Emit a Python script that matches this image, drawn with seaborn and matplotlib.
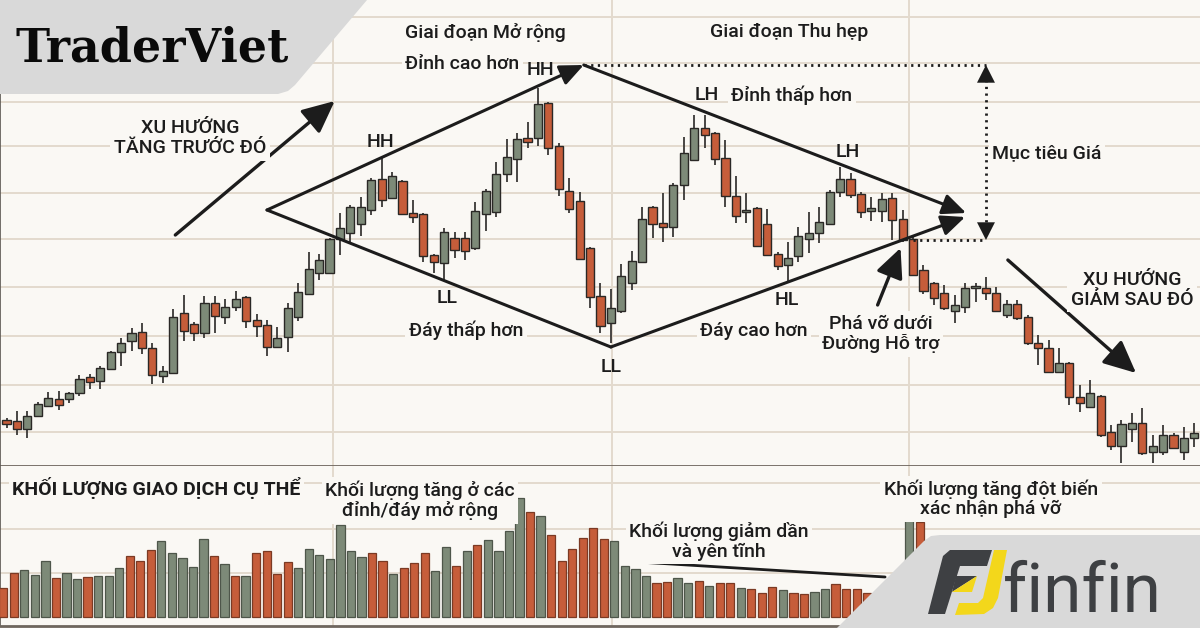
import matplotlib
matplotlib.use("Agg")
import matplotlib.pyplot as plt
import seaborn as sns
import pandas as pd
import numpy as np
from matplotlib.patches import Polygon
import matplotlib.colors as mcolors

# ---------------- data ----------------
opens = [50, 49, 41, 54, 64, 71, 71, 77, 93, 89,
         101, 118, 129, 138, 122, 94, 97, 157, 146, 137,
         167, 153, 163, 173, 150, 145, 123, 133, 153, 176,
         197, 197, 231, 237, 246, 260, 291, 272, 289, 257,
         256, 215, 207, 232, 232, 222, 256, 258, 296, 311,
         332, 332, 367, 324, 279, 269, 222, 174, 147, 159,
         187, 208, 263, 247, 243, 285, 310, 342, 337, 312,
         274, 258, 262, 246, 216, 205, 214, 231, 237, 246,
         278, 291, 276, 259, 259, 272, 251, 231, 200, 187,
         177, 159, 163, 182, 182, 177, 155, 166, 153, 127,
         122, 98, 107, 73, 63, 74, 38, 24, 41, 47,
         18, 18, 35, 18, 32]
closes = [46, 41, 54, 66, 72, 65, 77, 91, 88, 102,
          118, 127, 137, 122, 95, 99, 153, 139, 137, 167,
          154, 163, 171, 149, 144, 123, 132, 162, 178, 201,
          210, 231, 242, 263, 263, 290, 270, 294, 256, 253,
          214, 208, 238, 220, 219, 259, 279, 296, 313, 331,
          328, 366, 322, 281, 261, 211, 173, 144, 162, 194,
          209, 251, 246, 243, 285, 317, 342, 335, 311, 274,
          254, 260, 224, 215, 204, 212, 234, 237, 248, 278,
          291, 275, 258, 262, 271, 250, 230, 195, 179, 172,
          162, 165, 182, 184, 177, 159, 166, 152, 127, 122,
          98, 107, 73, 67, 77, 35, 24, 46, 47, 17,
          24, 35, 22, 32, 37]
highs = [52, 59, 59, 68, 78, 79, 78, 95, 96, 104,
         119, 132, 142, 147, 127, 104, 161, 175, 148, 174,
         174, 171, 179, 174, 156, 150, 143, 167, 187, 218,
         216, 232, 257, 265, 273, 292, 312, 298, 290, 270,
         257, 216, 242, 238, 238, 268, 281, 308, 331, 337,
         348, 382, 368, 327, 292, 278, 223, 187, 181, 206,
         219, 263, 264, 277, 287, 333, 355, 355, 338, 330,
         294, 277, 263, 261, 218, 228, 243, 258, 263, 280,
         303, 297, 278, 273, 277, 277, 260, 235, 205, 188,
         185, 175, 187, 187, 193, 183, 170, 170, 155, 135,
         130, 122, 108, 85, 90, 75, 45, 50, 57, 62,
         35, 45, 37, 43, 47]
lows = [42, 35, 32, 53, 64, 60, 67, 74, 81, 81,
        100, 104, 119, 116, 86, 87, 96, 129, 129, 132,
        137, 146, 159, 142, 133, 114, 122, 118, 149, 175,
        190, 196, 215, 227, 234, 255, 263, 271, 255, 247,
        208, 197, 189, 212, 210, 220, 239, 253, 288, 288,
        322, 324, 315, 274, 257, 210, 162, 137, 127, 157,
        180, 207, 232, 228, 233, 270, 309, 322, 305, 263,
        247, 247, 223, 214, 200, 189, 208, 217, 227, 245,
        273, 272, 252, 249, 248, 230, 228, 194, 176, 165,
        160, 147, 157, 168, 170, 158, 152, 150, 125, 105,
        97, 97, 65, 58, 62, 33, 20, 7, 28, 15,
        7, 15, 21, 10, 23]

volumes = [29, 44, 47, 42, 56, 39, 44, 38, 40, 41,
           41, 49, 61, 56, 67, 76, 64, 59, 50, 78,
           61, 53, 41, 41, 64, 66, 43, 55, 49, 68,
           62, 58, 92, 66, 60, 64, 56, 43, 49, 54,
           64, 46, 70, 51, 66, 72, 77, 66, 86, 119,
           105, 101, 82, 56, 68, 79, 89, 78, 76, 51,
           48, 41, 34, 35, 39, 34, 36, 31, 34, 34,
           29, 28, 24, 30, 27, 24, 23, 25, 28, 33,
           28, 28, 24, 25, 26, 30, 102, 95, 72, 66,
           60, 55, 58, 52, 50, 48, 55, 60, 62, 57,
           64, 60, 58, 66, 62, 70, 65, 58, 54, 56,
           50, 52, 48, 50]
volume_side = list("RRGGGRGGRG" "GGRRRGGGGG" "RGRGRRRRGG" "GGGGGRRGRR"
                   "RGGRGRGGGG" "RGRRRRRRGG" "GGRRGGRGRR" "GRRRGRRGGR"
                   "RRRRGRGRRR" "RGGGRRGRRR" "RGRRGRRGRG" "GRGG")

# pattern pivots (candle index, price)
diamond_left = (25.0, 260)
diamond_top = (55.4, 405)
diamond_bottom = (58.0, 123)
diamond_apex_hi = (92.1, 257)
diamond_apex_lo = (92.0, 253)
target_x = 94.0
support_break = (87.0, 230)
trend_up = [(16.2, 235), (31.5, 369)]
trend_down = [(96.1, 210), (108.4, 97)]
breakout_arrow = [(83.6, 165), (85.8, 222)]
quiet_volume_line = [(60.25, 55), (83.7, 40)]

price_grid = [453, 407, 368, 324, 277, 231, 183, 134, 85, 38]
volume_grid = [134, 88, 44]

# ---------------- style ----------------
BG = "#faf8f4"
GRID = "#e3dacd"
GREEN = "#7d8a78"
RED = "#c65d3a"
INK = "#1c1c1c"

sns.set_theme(style="white")
plt.rcParams['font.family'] = ['Roboto', 'DejaVu Sans']

W, H = 1200, 628
fig = plt.figure(figsize=(12, 6.28), dpi=100, facecolor=BG)
ax = fig.add_axes([0, (H - 466) / H, 1, 466 / H], facecolor=BG)
axv = fig.add_axes([0, (H - 626) / H, 1, 160 / H], facecolor=BG)
ov = fig.add_axes([0, 0, 1, 1])
ov.set_xlim(0, W)
ov.set_ylim(H, 0)
ov.axis('off')
ov.patch.set_alpha(0)
ov.set_zorder(5)

# ---------------- price panel ----------------
n = len(opens)
idx = np.arange(n)
o = np.array(opens, float); c = np.array(closes, float)
h = np.array(highs, float); l = np.array(lows, float)
up = c >= o
ax.vlines(idx, l, h, color='#3a3836', lw=1.3, zorder=2)
ax.bar(idx, np.maximum(np.abs(c - o), 1.5), bottom=np.minimum(o, c), width=0.78,
       color=np.where(up, GREEN, RED), edgecolor='#2a2826', linewidth=1.0, zorder=3)
ax.set_xlim(-6.5 / 10.42, (W - 6.5) / 10.42)
ax.set_ylim(4, 470)
ax.set_yticks(price_grid)
ax.set_xticks([])
ax.grid(axis='y', color=GRID, lw=1.4)
ax.tick_params(left=False, labelleft=False, bottom=False, labelbottom=False)
for s in ['top', 'right']:
    ax.spines[s].set_visible(False)
ax.spines['left'].set_color('#5a5550'); ax.spines['left'].set_linewidth(1.2)
ax.spines['bottom'].set_color('#6e665e'); ax.spines['bottom'].set_linewidth(2.0)
ax.set_axisbelow(True)

# ---------------- volume panel ----------------
vdf = pd.DataFrame({'i': np.arange(len(volumes)), 'vol': volumes, 'side': volume_side})
sns.barplot(data=vdf, x='i', y='vol', hue='side', palette={'G': GREEN, 'R': RED},
            native_scale=True, dodge=False, width=0.78, saturation=1, legend=False,
            linewidth=0.9, edgecolor='#444', ax=axv, zorder=3)
for p in axv.patches:
    fc = np.array(mcolors.to_rgb(p.get_facecolor()))
    p.set_edgecolor(tuple(fc * 0.62))
axv.set_xlim(-3.3 / 10.535, (W - 3.3) / 10.535)
axv.set_ylim(-9, 151)
axv.set_yticks(volume_grid)
axv.set_xticks([])
axv.grid(axis='y', color=GRID, lw=1.4)
axv.set_axisbelow(True)
axv.set_xlabel(''); axv.set_ylabel('')
axv.tick_params(left=False, labelleft=False, bottom=False, labelbottom=False)
for s in ['top', 'right']:
    axv.spines[s].set_visible(False)
axv.spines['left'].set_color('#5a5550'); axv.spines['left'].set_linewidth(1.2)
axv.spines['bottom'].set_color('#6e665e'); axv.spines['bottom'].set_linewidth(2.0)
axv.plot(*zip(*quiet_volume_line), color=INK, lw=2.0, zorder=4)

# vertical gridlines through both panels
for fx in [333 / W, 612 / W, 909 / W]:
    for a in (ax, axv):
        a.plot([fx, fx], [0, 1], transform=a.transAxes, color=GRID, lw=1.4, zorder=0.5)

# ---------------- pattern drawing ----------------
def arrow(a, p0, p1, scale=18, hl=0.8, hw=0.35, lw=2.2, ls='-'):
    a.annotate('', xy=p1, xytext=p0,
               arrowprops=dict(arrowstyle=f'-|>,head_length={hl},head_width={hw}',
                               color=INK, lw=lw, ls=ls, mutation_scale=scale,
                               shrinkA=0, shrinkB=0), zorder=6)

arrow(ax, diamond_left, diamond_top)
arrow(ax, diamond_top, diamond_apex_hi)
ax.plot([diamond_left[0], diamond_bottom[0]], [diamond_left[1], diamond_bottom[1]],
        color=INK, lw=2.2, zorder=6, solid_capstyle='round')
arrow(ax, diamond_bottom, diamond_apex_lo)

dot = (0, (0.8, 1.6))
ax.plot([diamond_top[0], target_x], [diamond_top[1]] * 2, color=INK, lw=2.0, ls=dot, zorder=6)
ax.plot([support_break[0], target_x], [support_break[1]] * 2, color=INK, lw=2.0, ls=dot, zorder=6)
ax.plot([target_x, target_x], [diamond_top[1] - 8, support_break[1] + 8], color=INK, lw=2.0, ls=dot, zorder=6)
for y0, y1 in [(diamond_top[1] - 14, diamond_top[1]), (support_break[1] + 14, support_break[1])]:
    ax.annotate('', xy=(target_x, y1), xytext=(target_x, y0),
                arrowprops=dict(arrowstyle='-|>,head_length=0.75,head_width=0.38', color=INK,
                                lw=0, mutation_scale=17, shrinkA=0, shrinkB=0), zorder=6)

arrow(ax, trend_up[0], trend_up[1], scale=22, hl=0.9, hw=0.42, lw=2.4)
arrow(ax, trend_down[0], trend_down[1], scale=22, hl=0.9, hw=0.42, lw=2.4)
arrow(ax, breakout_arrow[0], breakout_arrow[1], scale=20, hl=0.9, hw=0.42, lw=2.4)

# ---------------- texts ----------------
box = dict(boxstyle='square,pad=0.18', fc=BG, ec='none')

def label(x, y, s, ha='center', size=14, weight='medium', bbox=True, ls=1.2):
    ov.text(x, y, s, ha=ha, va='center', fontsize=size, color=INK, fontweight=weight,
            linespacing=ls, bbox=box if bbox else None, zorder=7,
            multialignment='center')

label(405, 32, "Giai đoạn Mở rộng", ha='left')
label(405, 64, "Đỉnh cao hơn", ha='left')
label(541, 70, "HH", bbox=False)
label(710, 32, "Giai đoạn Thu hẹp", ha='left')
label(707, 95, "LH", bbox=False)
label(731, 95, "Đỉnh thấp hơn", ha='left')
label(381, 142, "HH", bbox=False)
label(190, 138, "XU HƯỚNG\nTĂNG TRƯỚC ĐÓ", ls=1.15)
label(848, 152, "LH", bbox=False)
label(992, 153, "Mục tiêu Giá", ha='left')
label(447, 298, "LL", bbox=False)
label(466, 330, "Đáy thấp hơn")
label(787, 300, "HL", bbox=False)
label(754, 331, "Đáy cao hơn")
label(611, 367, "LL", bbox=False)
label(881, 334, "Phá vỡ dưới\nĐường Hỗ trợ", ls=1.1)
label(1132, 290, "XU HƯỚNG\nGIẢM SAU ĐÓ", ls=1.1)
label(12, 488, "KHỐI LƯỢNG GIAO DỊCH CỤ THỂ", ha='left', weight='bold')
label(420, 500, "Khối lượng tăng ở các\nđỉnh/đáy mở rộng", ls=1.1)
label(719, 541, "Khối lượng giảm dần\nvà yên tĩnh", ls=1.1)
label(991, 499, "Khối lượng tăng đột biến\nxác nhận phá vỡ", ls=1.05)

# ---------------- logos ----------------
LOGO_GREY = "#d9d9d9"
ov.add_patch(Polygon([(0, 0), (367, 0), (295, 85), (288, 91), (278, 94), (0, 94)],
                     closed=True, fc=LOGO_GREY, ec='none', zorder=8))
ov.text(15, 62, "TraderViet", ha='left', va='baseline', fontsize=33, fontweight='bold',
        family=['DejaVu Serif'], color='#0a0a0a', zorder=9)

ov.add_patch(Polygon([(837, 628), (924, 541), (931, 536), (940, 535), (1200, 535), (1200, 628)],
                     closed=True, fc=LOGO_GREY, ec='none', zorder=8))
DARK = "#3e4043"
YEL = "#f3d71b"
ov.add_patch(Polygon([(950, 550), (992, 550), (987, 566), (960, 566), (945, 614), (928, 614), (943, 556)],
                     closed=True, fc=DARK, ec='none', zorder=9))
ov.add_patch(Polygon([(956, 576), (977, 576), (952, 592)], closed=True, fc=DARK, ec='none', zorder=9))
ov.add_patch(Polygon([(977, 576), (972, 592), (952, 592)], closed=True, fc=YEL, ec='none', zorder=9))
ov.add_patch(Polygon([(994, 550), (1007, 550), (998, 598), (993, 608), (984, 614), (955, 615),
                      (959, 603), (978, 603), (983, 598)], closed=True, fc=YEL, ec='none', zorder=9))
ov.text(1003, 612, "finfin", ha='left', va='baseline', fontsize=50, color=DARK,
        family=['Roboto', 'DejaVu Sans'], zorder=9)

fig.savefig("out.png", dpi=100, facecolor=BG)
